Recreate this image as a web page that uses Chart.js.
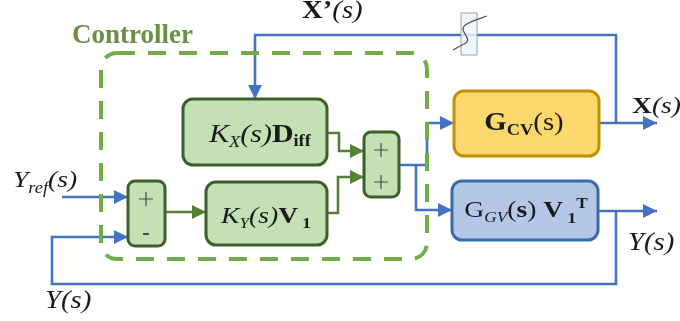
<!DOCTYPE html>
<html>
<head>
<meta charset="utf-8">
<script src="https://cdn.jsdelivr.net/npm/chart.js@4.4.0/dist/chart.umd.min.js"></script>
<style>
  html, body { margin: 0; padding: 0; background: #fff; }
  canvas { display: block; }
</style>
</head>
<body>
<canvas id="diagram" width="680" height="321"></canvas>
<script>
// diagram coordinates (x right, y down), mapped through the chart's own scales
const signalWires = [
  [[616, 123], [616, 35], [255, 35], [255, 99]],            // X'(s) feedback
  [[599, 123], [657, 123]],                                 // X(s) output
  [[598, 211], [657, 211]],                                 // Y(s) output
  [[616, 211], [616, 284], [52, 284], [52, 237], [128, 237]], // Y(s) feedback
  [[62, 197], [128, 197]],                                  // Yref input
  [[399, 165], [427, 165], [427, 123], [454, 123]],         // to G_CV
  [[416, 165], [416, 210], [452, 210]]                      // to G_GV
];
const controlWires = [
  [[165, 212], [206, 212]],
  [[327, 133], [339, 133], [339, 151], [364, 151]],
  [[327, 213], [338, 213], [338, 177], [364, 177]]
];

const blockNames = ['kx', 'ky', 'sum1', 'sum2', 'gcv', 'ggv'];
const blockRects = [
  [183, 99, 327, 165],
  [206, 182, 327, 245],
  [128, 181, 165, 246],
  [364, 132, 399, 197],
  [454, 91, 599, 156],
  [452, 181, 598, 240]
];
const blockKinds = ['ctrl', 'ctrl', 'sum', 'sum', 'plantX', 'plantY'];

const controllerFrame = [101, 53, 427, 259];
const breakMark = [461, 13, 477, 55];
const breakWiggle = [[453, 50], [462, 45], [478, 39], [454, 31], [467, 24], [471, 21], [478, 19], [487, 16]];

// signs on the summing junctions: [x, y, sign]
const junctionSigns = [[146, 199, '+'], [146, 234, '-'], [381, 150, '+'], [381, 182, '+']];

// labels: [anchorX, baseline, align, runs]; run = [text, style, size, dy]
const labels = [
  [302, 18, 'left', [['X\u2019', 'b', 25, 0], ['(s)', 'i', 25, 0]]],
  [632, 113, 'left', [['X', 'b', 24, 0], ['(s)', 'i', 24, 0]]],
  [13, 187, 'left', [['Y', 'i', 24, 0], ['ref', 'i', 16, 6], ['(s)', 'i', 24, 0]]],
  [45, 308, 'left', [['Y(s)', 'i', 25, 0]]],
  [628, 250, 'left', [['Y(s)', 'i', 25, 0]]],
  [260, 142, 'center', [['K', 'i', 26, 0], ['X', 'i', 16, 5], ['(s)', 'i', 26, 0], ['D', 'b', 26, 0], ['iff', 'b', 16, 4]]],
  [266, 223, 'center', [['K', 'i', 24, 0], ['Y', 'i', 15, 5], ['(s)', 'i', 24, 0], ['V', 'b', 24, 0], [' 1', 'b', 15, 5]]],
  [524, 130, 'center', [['G', 'b', 25, 0], ['CV', 'b', 16, 5], ['(s)', '', 25, 0]]],
  [526, 217, 'center', [['G', '', 24, 0], ['GV', 'i', 15, 5], ['(', '', 24, 0], ['s', 'b', 24, 0], [') ', '', 24, 0], ['V', 'b', 24, 0], [' 1', 'b', 15, 6], ['T', 'b', 15, -9]]]
];

const COLORS = {
  signal: '#4472c4',
  control: '#548235',
  frame: '#70ad47',
  ctrl: ['#c5e0b4', '#3d5f29'],
  sum: ['#c5e0b4', '#3d5f29'],
  plantX: ['#fdd86c', '#bf9000'],
  plantY: ['#b4c7e7', '#3d6aa8']
};
const SERIF = '"Liberation Serif", "Times New Roman", serif';
const TEXT_STRETCH = 1.15; // the reference lettering is a bit wider than Times

function toPoints(path) {
  return path.map(([x, y]) => ({ x: x, y: y }));
}

const datasets = [];
signalWires.forEach(w => datasets.push({ data: toPoints(w), borderColor: COLORS.signal }));
controlWires.forEach(w => datasets.push({ data: toPoints(w), borderColor: COLORS.control }));
datasets.forEach(d => {
  d.showLine = true;
  d.borderWidth = 2.6;
  d.pointRadius = 0;
  d.tension = 0;
  d.borderJoinStyle = 'miter';
});

function roundRect(ctx, x0, y0, x1, y1, r) {
  ctx.beginPath();
  ctx.moveTo(x0 + r, y0);
  ctx.arcTo(x1, y0, x1, y1, r);
  ctx.arcTo(x1, y1, x0, y1, r);
  ctx.arcTo(x0, y1, x0, y0, r);
  ctx.arcTo(x0, y0, x1, y0, r);
  ctx.closePath();
}

function fontFor(style, size) {
  let f = '';
  if (style.includes('i')) f += 'italic ';
  if (style.includes('b')) f += 'bold ';
  return f + size + 'px ' + SERIF;
}

function drawRich(ctx, x, y, align, runs) {
  let total = 0;
  runs.forEach(r => { ctx.font = fontFor(r[1], r[2]); total += ctx.measureText(r[0]).width; });
  ctx.save();
  ctx.translate(x, y);
  ctx.scale(TEXT_STRETCH, 1);
  let cx = align === 'center' ? -total / 2 : 0;
  ctx.textAlign = 'left';
  ctx.textBaseline = 'alphabetic';
  runs.forEach(r => {
    ctx.font = fontFor(r[1], r[2]);
    ctx.fillText(r[0], cx, r[3]);
    cx += ctx.measureText(r[0]).width;
  });
  ctx.restore();
}

const diagramPlugin = {
  id: 'diagram',
  afterDatasetsDraw(chart) {
    const ctx = chart.ctx;
    const sx = chart.scales.x, sy = chart.scales.y;
    const px = v => sx.getPixelForValue(v);
    const py = v => sy.getPixelForValue(v);

    // arrow heads at the end of every wire
    chart.data.datasets.forEach(ds => {
      const n = ds.data.length;
      const a = ds.data[n - 2], b = ds.data[n - 1];
      const ax = px(a.x), ay = py(a.y), bx = px(b.x), by = py(b.y);
      const ang = Math.atan2(by - ay, bx - ax);
      ctx.save();
      ctx.translate(bx, by);
      ctx.rotate(ang);
      ctx.fillStyle = ds.borderColor;
      ctx.beginPath();
      ctx.moveTo(0, 0);
      ctx.lineTo(-14, -7);
      ctx.lineTo(-14, 7);
      ctx.closePath();
      ctx.fill();
      ctx.restore();
    });

    // break mark on the X' line
    ctx.save();
    const [bx0, by0, bx1, by1] = breakMark;
    ctx.fillStyle = 'rgba(238,242,248,0.85)';
    ctx.strokeStyle = '#9aa6b6';
    ctx.lineWidth = 1;
    ctx.fillRect(px(bx0), py(by0), px(bx1) - px(bx0), py(by1) - py(by0));
    ctx.strokeRect(px(bx0), py(by0), px(bx1) - px(bx0), py(by1) - py(by0));
    const w = breakWiggle.map(([x, y]) => [px(x), py(y)]);
    ctx.strokeStyle = '#555';
    ctx.lineWidth = 1.3;
    ctx.beginPath();
    ctx.moveTo(w[0][0], w[0][1]);
    ctx.lineTo(w[1][0], w[1][1]);
    ctx.bezierCurveTo(w[2][0], w[2][1], w[3][0], w[3][1], w[4][0], w[4][1]);
    ctx.bezierCurveTo(w[5][0], w[5][1], w[6][0], w[6][1], w[7][0], w[7][1]);
    ctx.stroke();
    ctx.restore();

    // dashed controller frame
    ctx.save();
    const [fx0, fy0, fx1, fy1] = controllerFrame;
    ctx.strokeStyle = COLORS.frame;
    ctx.lineWidth = 4;
    ctx.setLineDash([18, 13]);
    roundRect(ctx, px(fx0), py(fy0), px(fx1), py(fy1), 16);
    ctx.stroke();
    ctx.restore();

    // blocks
    blockRects.forEach((r, i) => {
      const [fill, stroke] = COLORS[blockKinds[i]];
      ctx.save();
      roundRect(ctx, px(r[0]), py(r[1]), px(r[2]), py(r[3]), blockKinds[i] === 'sum' ? 7 : 10);
      ctx.fillStyle = fill;
      ctx.fill();
      ctx.strokeStyle = stroke;
      ctx.lineWidth = 3;
      ctx.stroke();
      ctx.restore();
    });

    // junction signs
    ctx.save();
    ctx.strokeStyle = '#4a4a4a';
    junctionSigns.forEach(([x, y, s]) => {
      const cx = px(x), cy = py(y);
      ctx.beginPath();
      if (s === '+') {
        ctx.lineWidth = 1.2;
        ctx.moveTo(cx - 7, cy); ctx.lineTo(cx + 7, cy);
        ctx.moveTo(cx, cy - 7); ctx.lineTo(cx, cy + 7);
      } else {
        ctx.lineWidth = 2;
        ctx.moveTo(cx - 3, cy); ctx.lineTo(cx + 3, cy);
      }
      ctx.stroke();
    });
    ctx.restore();

    // texts
    ctx.save();
    ctx.fillStyle = '#6a9048';
    ctx.font = 'bold 27px ' + SERIF;
    ctx.textAlign = 'left';
    ctx.textBaseline = 'alphabetic';
    ctx.fillText('Controller', px(72), py(43));
    ctx.fillStyle = '#1a1a1a';
    labels.forEach(([x, y, align, runs]) => drawRich(ctx, px(x), py(y), align, runs));
    ctx.restore();
  }
};

new Chart(document.getElementById('diagram'), {
  type: 'scatter',
  data: { datasets: datasets },
  options: {
    responsive: false,
    animation: false,
    events: [],
    layout: { padding: 0 },
    scales: {
      x: { type: 'linear', min: 0, max: 680, display: false },
      y: { type: 'linear', min: 0, max: 321, reverse: true, display: false }
    },
    plugins: { legend: { display: false }, tooltip: { enabled: false } }
  },
  plugins: [diagramPlugin]
});
</script>
</body>
</html>
